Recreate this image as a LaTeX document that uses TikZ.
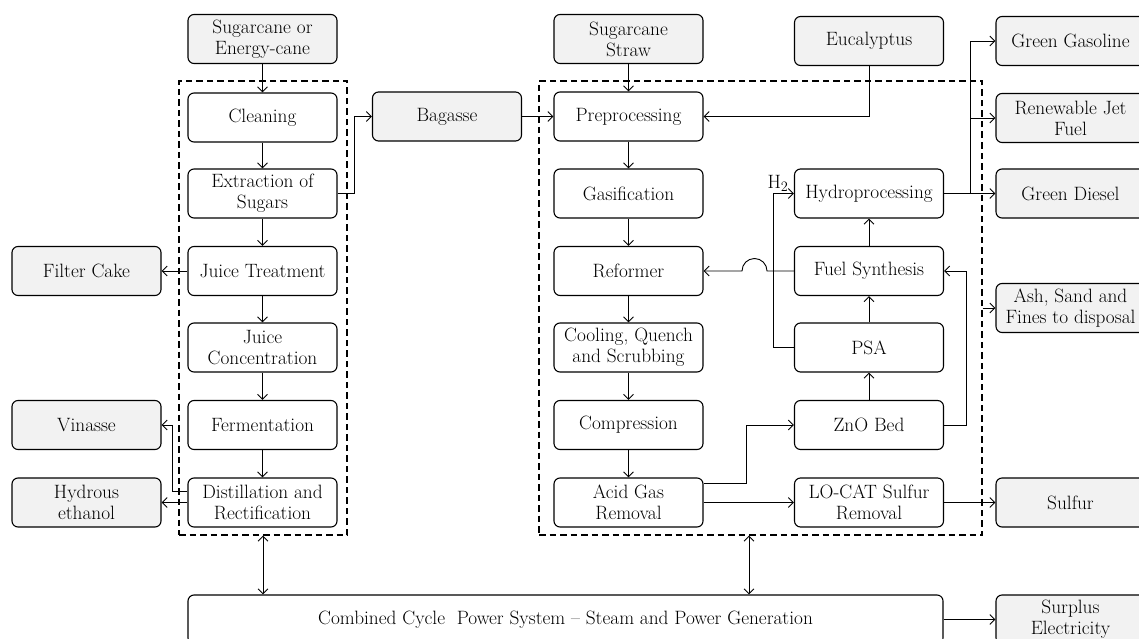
\documentclass[tikz,border=0pt]{standalone}
\usepackage{tikz}
\usetikzlibrary{arrows.meta}
\definecolor{boxgray}{RGB}{242,242,242}
\newcommand{\flowfont}{\fontsize{19.3}{21}\selectfont}
\tikzset{
  process/.style={draw, rounded corners=6pt, line width=1.1pt, minimum width=149pt,
    minimum height=49pt, align=center, inner sep=2pt, font=\flowfont},
  stream/.style={process, fill=boxgray},
  plant/.style={draw, dash pattern=on 6.5pt off 4pt, line width=1.1pt, inner sep=0pt},
  flow/.style={line width=0.9pt, -{Straight Barb[length=5pt,width=10pt]}},
  twoway/.style={line width=0.9pt, {Straight Barb[length=5pt,width=10pt]}-{Straight Barb[length=5pt,width=10pt]}}
}

\begin{document}
\begin{tikzpicture}[x=1pt,y=-1pt]
  % Fix the frame
  \useasboundingbox (0,0) rectangle (1139,639);
  \clip (0,0) rectangle (1139,639);

  % Draw the plant borders
  \node[plant, minimum width=168pt, minimum height=454pt] (sugarplant) at (263,308) {};
  \node[plant, minimum width=443pt, minimum height=454pt] (gasplant) at (760.5,308) {};

  % Sugar and ethanol line
  \node[stream] (cane) at (262.5,39) {Sugarcane or\\Energy-cane};
  \node[process] (clean) at (262.5,117.5) {Cleaning};
  \node[process] (extract) at (262.5,193.5) {Extraction of\\Sugars};
  \node[process] (treat) at (262.5,271) {Juice Treatment};
  \node[process] (conc) at (262.5,347.5) {Juice\\Concentration};
  \node[process] (ferm) at (262.5,425) {Fermentation};
  \node[process] (dist) at (262.5,502.5) {Distillation and\\Rectification};
  \node[stream] (filter) at (86.5,271) {Filter Cake};
  \node[stream] (vinasse) at (86.5,425) {Vinasse};
  \node[stream] (hydrous) at (86.5,502.5) {Hydrous\\ethanol};
  \node[stream] (bagasse) at (447,116.5) {Bagasse};

  % Gasification line
  \node[stream] (straw) at (628.5,39) {Sugarcane\\Straw};
  \node[process] (pre) at (628.5,116.5) {Preprocessing};
  \node[process] (gasif) at (628.5,193.5) {Gasification};
  \node[process] (reform) at (628.5,271) {Reformer};
  \node[process] (cool) at (628.5,347.5) {Cooling, Quench\\and Scrubbing};
  \node[process] (comp) at (628.5,425) {Compression};
  \node[process] (acid) at (628.5,502.5) {Acid Gas\\Removal};
  \node[stream] (euca) at (869,41) {Eucalyptus};
  \node[process] (hydro) at (869,193.5) {Hydroprocessing};
  \node[process] (fuelsyn) at (869,271) {Fuel Synthesis};
  \node[process] (psa) at (869,347.5) {PSA};
  \node[process] (zno) at (869,425) {ZnO Bed};
  \node[process] (locat) at (869,502.5) {LO-CAT Sulfur\\Removal};

  % Products
  \node[stream] (gasoline) at (1070.5,41) {Green Gasoline};
  \node[stream] (jet) at (1070.5,118) {Renewable Jet\\Fuel};
  \node[stream] (diesel) at (1070.5,193.5) {Green Diesel};
  \node[stream] (ash) at (1070.5,308) {Ash, Sand and\\Fines to disposal};
  \node[stream] (sulfur) at (1070.5,502.5) {Sulfur};

  % Power block
  \node[process, minimum width=755pt] (combined) at (565.5,619.5) {Combined Cycle\ \ Power System -- Steam and Power Generation};
  \node[stream] (surplus) at (1070.5,619.5) {Surplus\\Electricity};

  % Sugar side flows
  \draw[flow] (cane) -- (clean);
  \draw[flow] (clean) -- (extract);
  \draw[flow] (extract) -- (treat);
  \draw[flow] (treat) -- (conc);
  \draw[flow] (conc) -- (ferm);
  \draw[flow] (ferm) -- (dist);
  \draw[flow] (treat) -- (filter);
  \draw[flow] ([yshift=11.5pt]dist.west) -- ++(-15,0) |- (vinasse.east);
  \draw[flow] (dist) -- (hydrous);
  \draw[flow] (extract.east) -- ++(17,0) |- (bagasse.west);
  \draw[flow] (bagasse) -- (pre);

  % Gasification flows
  \draw[flow] (straw) -- (pre);
  \draw[flow] (euca.south) |- (pre.east);
  \draw[flow] (pre) -- (gasif);
  \draw[flow] (gasif) -- (reform);
  \draw[flow] (reform) -- (cool);
  \draw[flow] (cool) -- (comp);
  \draw[flow] (comp) -- (acid);
  \draw[flow] ([yshift=19.5pt]acid.east) -- ++(43,0) |- (zno.west);
  \draw[flow] (acid) -- (locat);
  \draw[flow] (zno) -- (psa);
  \draw[flow] (psa) -- (fuelsyn);
  \draw[flow] (fuelsyn) -- (hydro);
  \draw[flow] (zno.east) -- ++(22,0) |- (fuelsyn.east);
  \coordinate (hcorner) at (773,193.5);
  \draw[flow] (psa.west) -| (hcorner) -- (hydro.west);
  \node[anchor=south, inner sep=2pt, font=\flowfont] (h2) at ([xshift=5pt]hcorner) {H$_2$};
  \draw[flow] (fuelsyn.west) -- (767,271) arc[start angle=0, end angle=180, radius=12.5pt] -- (reform.east);

  % Products out
  \coordinate (split) at ([xshift=26pt]hydro.east);
  \draw[flow] (hydro) -- (diesel);
  \draw[flow] (split) |- (gasoline.west);
  \draw[flow] (split) |- (jet.west);
  \draw[flow] (gasplant.east) -- (ash.west);
  \draw[flow] (locat) -- (sulfur);

  % Power exchange
  \draw[twoway] (sugarplant.south) -- (sugarplant.south |- combined.north);
  \draw[twoway] ([xshift=-11.5pt]gasplant.south) -- ([xshift=-11.5pt]gasplant.south |- combined.north);
  \draw[flow] (combined) -- (surplus);
\end{tikzpicture}
\end{document}
